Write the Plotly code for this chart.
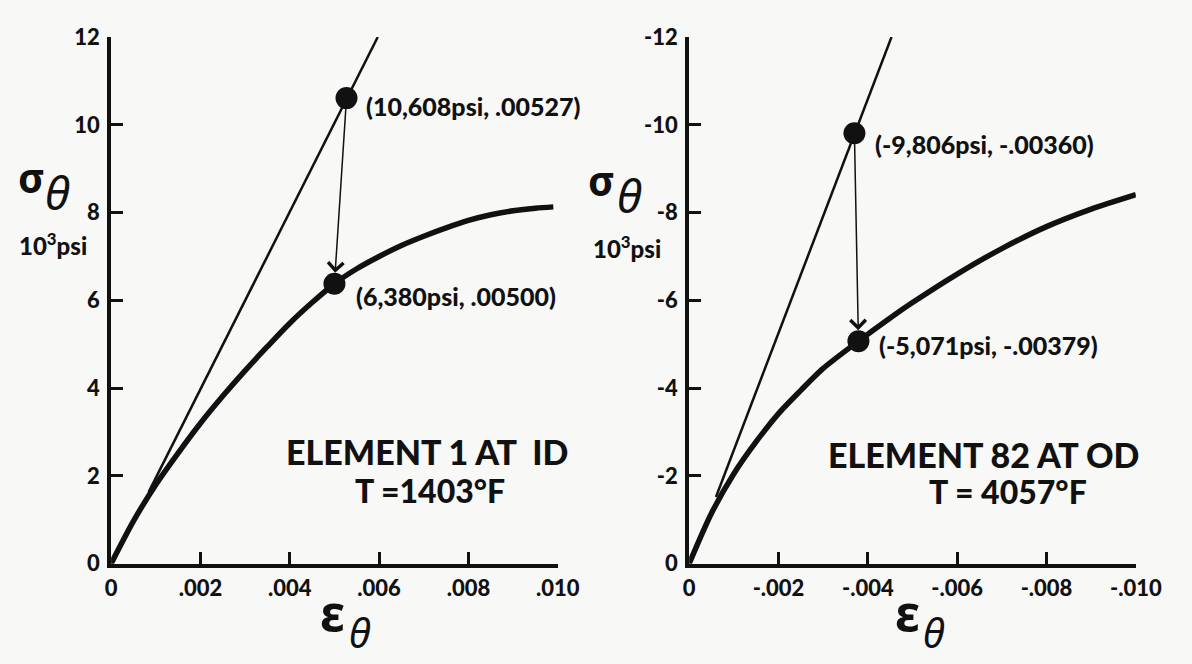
import plotly.graph_objects as go

# ---------------- data ----------------
# Left panel: Element 1 at ID, T = 1403 F  (strain, stress in 10^3 psi)
left_curve_strain = [0, 0.0005, 0.0010, 0.0015, 0.0020, 0.0025, 0.0030, 0.0035, 0.0040, 0.0045,
                     0.0050, 0.0055, 0.0060, 0.0065, 0.0070, 0.0075, 0.0080, 0.0085, 0.0090,
                     0.0095, 0.0099]
left_curve_stress = [0, 0.97, 1.80, 2.52, 3.20, 3.82, 4.40, 4.95, 5.48, 5.95,
                     6.38, 6.72, 7.00, 7.25, 7.46, 7.65, 7.82, 7.95, 8.04,
                     8.10, 8.13]
left_elastic_strain = [0.00084, 0.00597]
left_elastic_stress = [1.63, 12.0]
left_points_strain = [0.00527, 0.00500]
left_points_stress = [10.608, 6.380]
left_point_labels = ["(10,608psi, .00527)", "(6,380psi, .00500)"]

# Right panel: Element 82 at OD, T = 4057 F
right_curve_strain = [0, -0.0005, -0.0010, -0.0015, -0.0020, -0.0025, -0.0030, -0.00379,
                      -0.0045, -0.0050, -0.0060, -0.0070, -0.0080, -0.0090, -0.0100]
right_curve_stress = [0, -1.15, -2.05, -2.78, -3.42, -3.95, -4.45, -5.071,
                      -5.60, -5.95, -6.60, -7.18, -7.68, -8.08, -8.41]
right_elastic_strain = [-0.0006, -0.00453]
right_elastic_stress = [-1.52, -12.0]
right_points_strain = [-0.0037, -0.00379]
right_points_stress = [-9.806, -5.071]
right_point_labels = ["(-9,806psi, -.00360)", "(-5,071psi, -.00379)"]

# axis ticks
left_xticks = [0, 0.002, 0.004, 0.006, 0.008, 0.010]
left_xticklabels = ["0", ".002", ".004", ".006", ".008", ".010"]
left_yticks = [0, 2, 4, 6, 8, 10, 12]
left_yticklabels = ["0", "2", "4", "6", "8", "10", "12"]
right_xticks = [0, -0.002, -0.004, -0.006, -0.008, -0.010]
right_xticklabels = ["0", "-.002", "-.004", "-.006", "-.008", "-.010"]
right_yticks = [0, -2, -4, -6, -8, -10, -12]
right_yticklabels = ["0", "-2", "-4", "-6", "-8", "-10", "-12"]

left_title = ["ELEMENT 1 AT  ID", "T =1403°F"]
right_title = ["ELEMENT 82 AT OD", "T = 4057°F"]

# ---------------- styling ----------------
INK = "#111111"
BG = "#f8f8f7"
FONT = "Lato"
WEIGHT = 900
W, H = 1192, 664

def px(X):
    return X / W

def py(Y):
    return 1 - Y / H

fig = go.Figure()

def add_panel(xa, ya, cs, cst, es, est, ps, pst):
    fig.add_trace(go.Scatter(x=cs, y=cst, mode="lines", xaxis=xa, yaxis=ya,
                             line=dict(color=INK, width=5.5, shape="spline", smoothing=0.8),
                             hoverinfo="skip", showlegend=False))
    fig.add_trace(go.Scatter(x=es, y=est, mode="lines", xaxis=xa, yaxis=ya,
                             line=dict(color=INK, width=2.5),
                             hoverinfo="skip", showlegend=False))
    fig.add_trace(go.Scatter(x=ps, y=pst, mode="markers", xaxis=xa, yaxis=ya,
                             marker=dict(color=INK, size=22),
                             hoverinfo="skip", showlegend=False))

add_panel("x", "y", left_curve_strain, left_curve_stress, left_elastic_strain,
          left_elastic_stress, left_points_strain, left_points_stress)
add_panel("x2", "y2", right_curve_strain, right_curve_stress, right_elastic_strain,
          right_elastic_stress, right_points_strain, right_points_stress)

tickfont = dict(family=FONT, size=22, color=INK, weight=WEIGHT)
axis_common = dict(showline=True, linecolor=INK, linewidth=4, ticks="inside",
                   ticklen=12, tickwidth=3, tickcolor=INK, showgrid=False,
                   zeroline=False, tickfont=tickfont, tickmode="array", fixedrange=True)

ydom = [py(573), py(24)]
fig.update_layout(
    width=W, height=H,
    margin=dict(l=0, r=0, t=0, b=0),
    paper_bgcolor=BG, plot_bgcolor=BG,
    showlegend=False,
    xaxis=dict(domain=[px(108), px(567)], range=[0, 0.010], anchor="y",
               tickvals=left_xticks, ticktext=left_xticklabels, ticklabelstandoff=2,
               **axis_common),
    yaxis=dict(domain=ydom, range=[0, 12], anchor="x",
               tickvals=left_yticks, ticktext=left_yticklabels, ticklabelstandoff=3,
               **axis_common),
    xaxis2=dict(domain=[px(702), px(1161)], range=[0, -0.010], anchor="y2",
                tickvals=right_xticks, ticktext=right_xticklabels, ticklabelstandoff=2,
                **axis_common),
    yaxis2=dict(domain=ydom, range=[0, -12], anchor="x2",
                tickvals=right_yticks, ticktext=right_yticklabels, ticklabelstandoff=3,
                **axis_common),
)

ann_font = dict(family=FONT, size=25, color=INK, weight=WEIGHT)

# point labels
shifts_left = [(17, -8), (20, -12)]
for xv, yv, t, (dx, dy) in zip(left_points_strain, left_points_stress, left_point_labels, shifts_left):
    fig.add_annotation(x=xv, y=yv, xref="x", yref="y", text=t, showarrow=False,
                       xanchor="left", yanchor="middle", xshift=dx, yshift=dy, font=ann_font)
shifts_right = [(19, -11), (19, -4)]
for xv, yv, t, (dx, dy) in zip(right_points_strain, right_points_stress, right_point_labels, shifts_right):
    fig.add_annotation(x=xv, y=yv, xref="x2", yref="y2", text=t, showarrow=False,
                       xanchor="left", yanchor="middle", xshift=dx, yshift=dy, font=ann_font)

# arrows from the elastic point down to the curve point
for xr, yr, ps, pst in [("x", "y", left_points_strain, left_points_stress),
                        ("x2", "y2", right_points_strain, right_points_stress)]:
    fig.add_annotation(x=ps[1], y=pst[1], ax=ps[0], ay=pst[0], xref=xr, yref=yr,
                       axref=xr, ayref=yr, text="", showarrow=True, arrowhead=4,
                       arrowsize=2.0, arrowwidth=1.5, arrowcolor=INK,
                       standoff=11, startstandoff=8)

# panel titles
title_font = dict(family=FONT, size=34, color=INK, weight=WEIGHT)
sub_font = dict(family=FONT, size=32, color=INK, weight=WEIGHT)
fig.add_annotation(x=px(433), y=py(456), xref="paper", yref="paper", text=left_title[0],
                   showarrow=False, xanchor="center", yanchor="middle", font=title_font)
fig.add_annotation(x=px(436), y=py(497), xref="paper", yref="paper", text=left_title[1],
                   showarrow=False, xanchor="center", yanchor="middle", font=sub_font)
fig.add_annotation(x=px(1004), y=py(459), xref="paper", yref="paper", text=right_title[0],
                   showarrow=False, xanchor="center", yanchor="middle", font=title_font)
fig.add_annotation(x=px(1030), y=py(498), xref="paper", yref="paper", text=right_title[1],
                   showarrow=False, xanchor="center", yanchor="middle", font=sub_font)

# axis titles (sigma_theta, 10^3 psi, epsilon_theta)
greek = dict(family="Noto Sans", color=INK)

def sigma_label(x_sig, y_sig, x_th, y_th, x_u, y_u):
    fig.add_annotation(x=px(x_sig), y=py(y_sig), xref="paper", yref="paper", text="σ",
                       showarrow=False, xanchor="center", yanchor="middle",
                       font=dict(size=41, weight="bold", **greek))
    fig.add_annotation(x=px(x_th), y=py(y_th), xref="paper", yref="paper", text="<i>θ</i>",
                       showarrow=False, xanchor="center", yanchor="middle",
                       font=dict(size=46, **greek))
    fig.add_annotation(x=px(x_u), y=py(y_u), xref="paper", yref="paper",
                       text="10<sup>3</sup>psi", showarrow=False, xanchor="center",
                       yanchor="middle", font=dict(family=FONT, size=24, color=INK, weight=WEIGHT))

sigma_label(26, 170, 53, 186, 48, 240)
sigma_label(612, 173, 641, 189, 638, 243)

def eps_label(x_e, y_e, x_th, y_th):
    fig.add_annotation(x=px(x_e), y=py(y_e), xref="paper", yref="paper", text="ε",
                       showarrow=False, xanchor="center", yanchor="middle",
                       font=dict(size=50, weight="bold", **greek))
    fig.add_annotation(x=px(x_th), y=py(y_th), xref="paper", yref="paper", text="<i>θ</i>",
                       showarrow=False, xanchor="center", yanchor="middle",
                       font=dict(size=40, **greek))

eps_label(336, 624, 364, 645)
eps_label(926, 624, 954, 645)

fig.write_html("out.html",
               post_script="document.body.style.margin='0';document.body.style.overflow='hidden';")
